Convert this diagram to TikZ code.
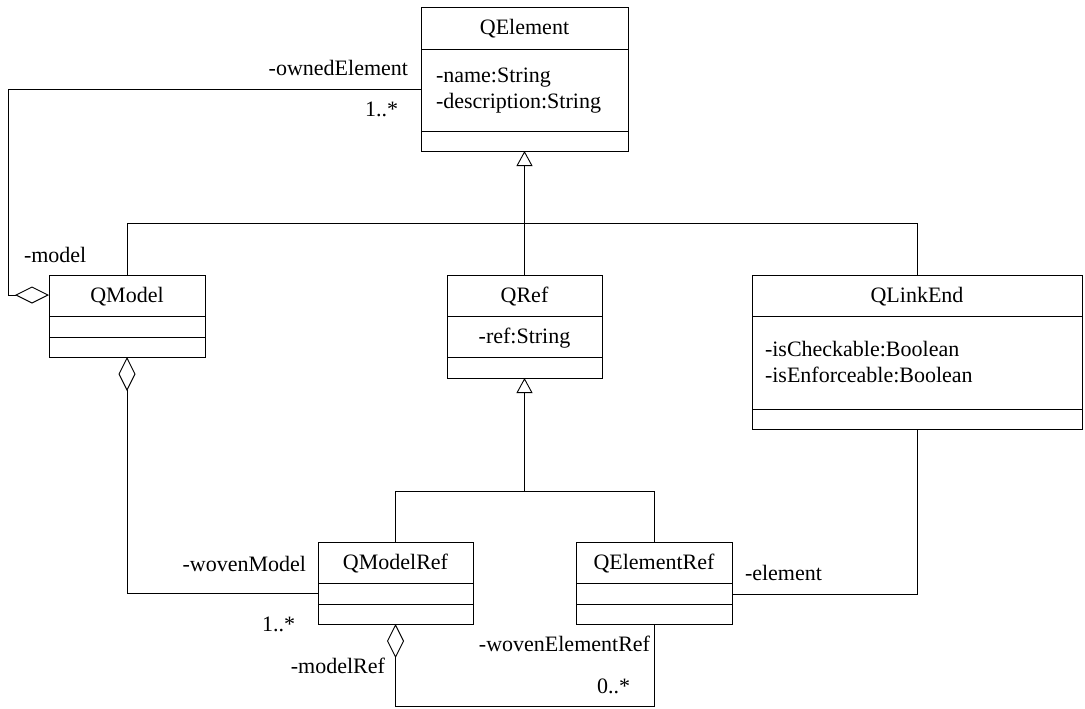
\documentclass[tikz,border=0pt]{standalone}
\usepackage{fontspec}
\setmainfont{Liberation Serif}
\usetikzlibrary{arrows.meta}
\begin{document}
\begin{tikzpicture}[x=1pt,y=-1pt, line width=0.9pt,
  box/.style={draw, rectangle, inner sep=0pt, outer sep=0pt, anchor=north west},
  txt/.style={font=\fontsize{22}{26}\selectfont, inner sep=0pt, outer sep=0pt},
  agg/.style={{Diamond[open,length=34pt,width=17pt]}-},
  gen/.style={-{Triangle[open,length=15pt,width=16pt]}}]
\fill[white] (0,0) rectangle (1085,709);
\useasboundingbox (0,0) rectangle (1085,709);

% QElement
\node[box, minimum width=207pt, minimum height=144pt] (qe) at (421,7) {};
\draw ([yshift=-42pt]qe.north west) -- ([yshift=-42pt]qe.north east);
\draw ([yshift=-124pt]qe.north west) -- ([yshift=-124pt]qe.north east);
\node[txt, anchor=base] (qet) at ([yshift=-28pt]qe.north) {QElement};
\node[txt, anchor=base west] (qea1) at ([xshift=15pt,yshift=-76pt]qe.north west) {-name:String};
\node[txt, anchor=base west] (qea2) at ([xshift=15pt,yshift=-101.5pt]qe.north west) {-description:String};

% QModel
\node[box, minimum width=156pt, minimum height=82pt] (qm) at (49,275) {};
\draw ([yshift=-41pt]qm.north west) -- ([yshift=-41pt]qm.north east);
\draw ([yshift=-62pt]qm.north west) -- ([yshift=-62pt]qm.north east);
\node[txt, anchor=base] (qmt) at ([yshift=-27.5pt]qm.north) {QModel};

% QRef
\node[box, minimum width=155pt, minimum height=103pt] (qr) at (447,275) {};
\draw ([yshift=-41pt]qr.north west) -- ([yshift=-41pt]qr.north east);
\draw ([yshift=-82pt]qr.north west) -- ([yshift=-82pt]qr.north east);
\node[txt, anchor=base] (qrt) at ([yshift=-27.5pt]qr.north) {QRef};
\node[txt, anchor=base] (qra) at ([yshift=-68pt]qr.north) {-ref:String};

% QLinkEnd
\node[box, minimum width=330pt, minimum height=154pt] (ql) at (752,275) {};
\draw ([yshift=-41pt]ql.north west) -- ([yshift=-41pt]ql.north east);
\draw ([yshift=-134pt]ql.north west) -- ([yshift=-134pt]ql.north east);
\node[txt, anchor=base] (qlt) at ([yshift=-27.5pt]ql.north) {QLinkEnd};
\node[txt, anchor=base west] (qla1) at ([xshift=13pt,yshift=-81pt]ql.north west) {-isCheckable:Boolean};
\node[txt, anchor=base west] (qla2) at ([xshift=13pt,yshift=-107pt]ql.north west) {-isEnforceable:Boolean};

% QModelRef
\node[box, minimum width=155pt, minimum height=82pt] (qmr) at (318,542) {};
\draw ([yshift=-41pt]qmr.north west) -- ([yshift=-41pt]qmr.north east);
\draw ([yshift=-62pt]qmr.north west) -- ([yshift=-62pt]qmr.north east);
\node[txt, anchor=base] (qmrt) at ([yshift=-27.5pt]qmr.north) {QModelRef};

% QElementRef
\node[box, minimum width=156pt, minimum height=82pt] (qer) at (576,542) {};
\draw ([yshift=-41pt]qer.north west) -- ([yshift=-41pt]qer.north east);
\draw ([yshift=-62pt]qer.north west) -- ([yshift=-62pt]qer.north east);
\node[txt, anchor=base] (qert) at ([yshift=-27.5pt]qer.north) {QElementRef};

% generalizations
\draw[gen] (qr.north) -- (qe.south);
\draw (qm.north) -- ++(0,-52) -| (ql.north);
\draw (qmr.north) -- ++(0,-51) coordinate (tb) -| (qer.north);
\draw[gen] (tb -| qr.south) -- (qr.south);

% associations
\draw[agg] ([yshift=-20pt]qm.north west) -- ++(-41,0) |- ([yshift=-10pt]qe.west);
\draw[agg] (qm.south) |- ([yshift=-10pt]qmr.west);
\draw[agg] (qmr.south) -- ++(0,82) -| (qer.south);
\draw ([yshift=-11pt]qer.east) -| (ql.south);

% role labels
\node[txt, anchor=base east] (l1) at (408,76) {-ownedElement};
\node[txt, anchor=base west] (l2) at (365,117) {1..*};
\node[txt, anchor=base west] (l3) at (24,262) {-model};
\node[txt, anchor=base east] (l4) at (306,571) {-wovenModel};
\node[txt, anchor=base west] (l5) at (262,631) {1..*};
\node[txt, anchor=base east] (l6) at (385,673) {-modelRef};
\node[txt, anchor=base east] (l7) at (650,651) {-wovenElementRef};
\node[txt, anchor=base west] (l8) at (597,693) {0..*};
\node[txt, anchor=base west] (l9) at (745,580) {-element};
\end{tikzpicture}
\end{document}
